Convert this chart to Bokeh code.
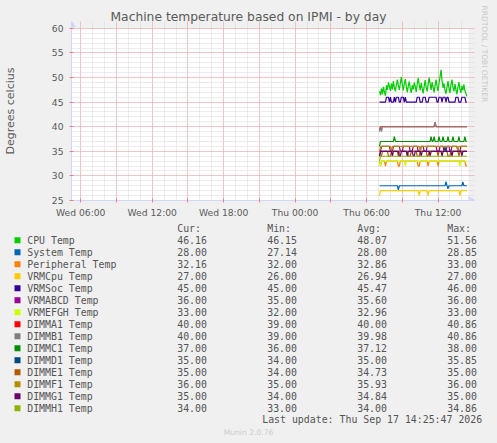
import math
import pandas as pd
from bokeh.plotting import figure
from bokeh.models import Range1d, FixedTicker, Title, GlobalInlineStyleSheet
from bokeh.layouts import column
from bokeh.embed import file_html
from bokeh.resources import INLINE
from bokeh.core.properties import value

# ---------------- data ----------------
DAY = "2026-09-17"
x_start = pd.Timestamp("2026-09-16 05:13:30")
x_end = pd.Timestamp("2026-09-17 14:33:30")

x_label_times = ["2026-09-16 06:00", "2026-09-16 12:00", "2026-09-16 18:00",
                 "2026-09-17 00:00", "2026-09-17 06:00", "2026-09-17 12:00"]
x_tick_labels = ["Wed 06:00", "Wed 12:00", "Wed 18:00", "Thu 00:00", "Thu 06:00", "Thu 12:00"]
y_ticks = [25, 30, 35, 40, 45, 50, 55, 60]
y_min, y_max = 25, 60

# CPU Temp, sampled every 5 minutes from 07:05 to 14:25
cpu_start = "07:05"
cpu_v = [47.2, 46.4, 47.8, 46.6, 48.1, 47.0, 46.3, 48.4, 47.5, 49.0, 48.2, 47.3,
         48.8, 47.6, 49.3, 48.0, 47.2, 48.5, 49.6, 48.3, 47.5, 48.9, 50.1, 48.6,
         47.4, 48.8, 49.7, 48.1, 47.0, 48.3, 49.2, 47.8, 46.9, 48.4, 47.6, 49.0,
         48.2, 47.1, 48.7, 49.9, 48.5, 47.4, 48.9, 47.8, 46.8, 48.2, 49.5, 48.0,
         47.2, 48.6, 50.0, 48.7, 47.5, 49.1, 48.0, 47.0, 48.4, 49.6, 48.1, 47.3,
         48.9, 50.2, 51.56, 49.4, 47.9, 48.8, 47.4, 46.7, 48.1, 49.3, 47.8, 46.9,
         48.5, 49.6, 48.0, 47.2, 48.7, 47.5, 46.6, 48.0, 49.1, 47.7, 46.9, 48.3,
         47.4, 48.6, 47.3, 46.8, 46.16]

sys_t = ["07:05", "08:35", "08:40", "08:45", "12:35", "12:40", "12:45", "12:50", "12:55",
         "14:00", "14:05", "14:10", "14:25"]
sys_v = [28, 28, 27.14, 28, 28, 28.85, 28, 27.4, 28, 28, 28.8, 28, 28]

per_t = ["07:05", "07:10", "07:15", "07:30", "07:35", "07:40", "08:35", "08:40", "08:45",
         "08:50", "10:15", "10:20", "10:25", "10:30", "11:05", "11:10", "11:15", "11:55",
         "12:00", "12:05", "14:15", "14:20", "14:25"]
per_v = [33, 32, 33, 33, 32, 33, 33, 32, 32, 33, 33, 32, 32, 33, 33, 32, 33, 33,
         32, 33, 33, 32, 32.16]

vrmcpu_t = ["07:05", "07:10", "10:20", "10:25", "10:30", "11:05", "11:10", "11:15",
            "13:45", "13:50", "13:55", "14:25"]
vrmcpu_v = [26, 27, 27, 26, 27, 27, 26, 27, 27, 26, 27, 27]

vrmsoc_t = ["07:05", "07:35", "07:40", "07:50", "07:55", "08:00", "08:05", "08:15", "08:20",
            "08:25", "08:30", "08:40", "08:45", "08:50", "08:55", "09:05", "09:10", "09:15",
            "09:20", "10:10", "10:15", "10:25", "10:30", "10:40", "10:45", "10:55", "11:00",
            "11:10", "11:15", "11:50", "11:55", "12:00", "12:05", "12:15", "12:20", "12:25",
            "12:35", "12:40", "12:45", "12:50", "12:55", "13:25", "13:30", "13:40", "13:45",
            "13:55", "14:00", "14:15", "14:20", "14:25"]
vrmsoc_v = [45, 45, 46, 46, 45, 46, 45, 45, 46,
            45, 46, 46, 45, 45, 46, 46, 45, 46,
            45, 45, 46, 46, 45, 45, 46, 46, 45,
            45, 46, 46, 45, 45, 46, 46, 45, 46,
            46, 45, 46, 46, 45, 45, 46, 46, 45,
            45, 46, 46, 45, 45]

vrmabcd_t = ["07:05", "07:10", "07:15", "07:55", "08:00", "08:10", "08:15", "08:45", "08:50",
             "09:00", "09:05", "09:35", "09:40", "09:50", "09:55", "10:15", "10:20", "10:30",
             "10:35", "10:45", "10:50", "11:00", "11:05", "11:50", "11:55", "12:05", "12:10",
             "12:25", "12:30", "12:40", "12:45", "12:55", "13:00", "13:05", "13:10", "13:35",
             "13:40", "13:50", "13:55", "14:25"]
vrmabcd_v = [35, 35, 36, 36, 35, 35, 36, 36, 35,
             35, 36, 36, 35, 35, 36, 36, 35, 35,
             36, 36, 35, 35, 36, 36, 35, 35, 36,
             36, 35, 35, 36, 36, 35, 35, 36, 36,
             35, 35, 36, 36]

vrmefgh_t = ["07:05", "07:10", "07:15", "09:10", "09:15", "09:20", "13:45", "13:50", "13:55", "14:25"]
vrmefgh_v = [33, 32, 33, 33, 32, 33, 33, 32, 33, 33]

dimma1_t = ["07:05", "07:10", "11:40", "11:45", "11:50", "14:25"]
dimma1_v = [39.4, 40, 40, 40.86, 40, 40]

dimmb1_t = ["07:05", "07:10", "07:15", "07:20", "11:40", "11:45", "11:50", "14:25"]
dimmb1_v = [39, 40, 39, 40, 40, 40.86, 40, 40]

dimmc1_t = ["07:05", "07:10", "08:15", "08:20", "08:25", "11:20", "11:25", "11:30", "11:35",
            "11:40", "11:45", "12:00", "12:05", "12:10", "12:20", "12:25", "12:30", "12:45",
            "12:50", "12:55", "13:10", "13:15", "13:20", "13:40", "13:45", "13:50", "14:10",
            "14:15", "14:20", "14:25"]
dimmc1_v = [36, 37, 37, 38, 37, 37, 38, 37, 37,
            38, 37, 37, 38, 37, 37, 38, 37, 37,
            38, 37, 37, 38, 37, 37, 38, 37, 37,
            38, 37, 37]

dimmd1_t = ["07:05", "07:10", "12:30", "12:35", "12:40", "14:25"]
dimmd1_v = [34, 35, 35, 35.85, 35, 35]

dimme1_t = ["07:05", "07:15", "07:20", "07:45", "07:50", "08:00", "08:05", "08:35", "08:40",
            "08:45", "09:25", "09:30", "09:40", "09:45", "10:10", "10:15", "10:25", "10:30",
            "11:00", "11:05", "11:10", "11:15", "11:55", "12:00", "12:05", "12:45", "12:50",
            "13:00", "13:05", "13:40", "13:45", "13:50", "14:25"]
dimme1_v = [34, 34, 35, 35, 34, 34, 35, 35, 34,
            35, 35, 34, 34, 35, 35, 34, 34, 35,
            35, 34, 34, 35, 35, 34, 35, 35, 34,
            34, 35, 35, 34, 35, 35]

dimmf1_t = ["07:05", "07:10", "08:00", "08:05", "08:10", "10:25", "10:30", "10:35",
            "13:35", "13:40", "13:45", "14:25"]
dimmf1_v = [35, 36, 36, 35, 36, 36, 35, 36, 36, 35, 36, 36]

dimmg1_t = ["07:05", "07:10", "08:05", "08:10", "08:15", "08:40", "08:45", "08:50", "08:55",
            "09:20", "09:25", "09:30", "09:50", "09:55", "10:00", "10:05", "10:30", "10:35",
            "10:40", "11:15", "11:20", "11:25", "12:15", "12:20", "12:25", "13:05", "13:10",
            "13:15", "13:55", "14:00", "14:05", "14:25"]
dimmg1_v = [34, 35, 35, 34, 35, 35, 34, 34, 35,
            35, 34, 35, 35, 34, 34, 35, 35, 34,
            35, 35, 34, 35, 35, 34, 35, 35, 34,
            35, 35, 34, 35, 35]

dimmh1_t = ["07:05", "07:10", "14:25"]
dimmh1_v = [33, 34, 34]

labels = ["CPU Temp", "System Temp", "Peripheral Temp", "VRMCpu Temp", "VRMSoc Temp",
          "VRMABCD Temp", "VRMEFGH Temp", "DIMMA1 Temp", "DIMMB1 Temp", "DIMMC1 Temp",
          "DIMMD1 Temp", "DIMME1 Temp", "DIMMF1 Temp", "DIMMG1 Temp", "DIMMH1 Temp"]
colors = ["#00CC00", "#0066B3", "#FF8000", "#FFCC00", "#330099", "#990099", "#CCFF00",
          "#FF0000", "#808080", "#008F00", "#00487D", "#B35A00", "#B38F00", "#6B006B", "#8FB300"]
cur_vals = [46.16, 28.00, 32.16, 27.00, 45.00, 36.00, 33.00, 40.00, 40.00, 37.00, 35.00, 35.00, 36.00, 35.00, 34.00]
min_vals = [46.15, 27.14, 32.00, 26.00, 45.00, 35.00, 32.00, 39.00, 39.00, 36.00, 34.00, 34.00, 35.00, 34.00, 33.00]
avg_vals = [48.07, 28.00, 32.86, 26.94, 45.47, 35.60, 32.96, 40.00, 39.98, 37.12, 35.00, 34.73, 35.93, 34.84, 34.00]
max_vals = [51.56, 28.85, 33.00, 27.00, 46.00, 36.00, 33.00, 40.86, 40.86, 38.00, 35.85, 35.00, 36.00, 35.00, 34.86]
col_heads = ["Cur:", "Min:", "Avg:", "Max:"]

title_text = "Machine temperature based on IPMI - by day"
y_label = "Degrees celcius"
last_update = "Last update: Thu Sep 17 14:25:47 2026"
munin_text = "Munin 2.0.76"
watermark = "RRDTOOL / TOBI OETIKER"

# ---------------- helpers ----------------
def ts(hm):
    return pd.Timestamp(f"{DAY} {hm}")

def ms(t):
    return pd.Timestamp(t).value / 1e6

MIN = 60 * 1000          # one minute in ms; one pixel = 5 minutes
cpu_t = list(pd.date_range(ts(cpu_start), periods=len(cpu_v), freq="5min"))

series = [
    (cpu_t, cpu_v), ([ts(h) for h in sys_t], sys_v), ([ts(h) for h in per_t], per_v),
    ([ts(h) for h in vrmcpu_t], vrmcpu_v), ([ts(h) for h in vrmsoc_t], vrmsoc_v),
    ([ts(h) for h in vrmabcd_t], vrmabcd_v), ([ts(h) for h in vrmefgh_t], vrmefgh_v),
    ([ts(h) for h in dimma1_t], dimma1_v), ([ts(h) for h in dimmb1_t], dimmb1_v),
    ([ts(h) for h in dimmc1_t], dimmc1_v), ([ts(h) for h in dimmd1_t], dimmd1_v),
    ([ts(h) for h in dimme1_t], dimme1_v), ([ts(h) for h in dimmf1_t], dimmf1_v),
    ([ts(h) for h in dimmg1_t], dimmg1_v), ([ts(h) for h in dimmh1_t], dimmh1_v),
]

FONT = "DejaVu Sans"
MONO = "DejaVu Sans Mono"
TXT = "#5a5a5a"
LEG = "#555555"
AXIS = "#CFD6F8"
MGRID = "#F0A0A0"
GRID = "#D8D8D8"
BACK = "#F0F0F0"

W = 497
H1, H2 = 220, 223

# ---------------- chart ----------------
# the frame reaches 6 px right of the canvas and 7 px above it, room for the axis arrows
x_hi = ms(x_end) + 30 * MIN
y_hi = y_max + 1.4
p = figure(width=W, height=H1, x_axis_type="datetime",
           x_range=Range1d(ms(x_start), x_hi), y_range=Range1d(y_min, y_hi),
           output_backend="svg", toolbar_location=None,
           min_border_left=67, min_border_right=23, min_border_top=21, min_border_bottom=17,
           background_fill_color=BACK, border_fill_color=BACK, outline_line_color=None)
p.frame_align = False

p.title.text = title_text
p.title.text_font = FONT
p.title.text_font_size = "12.3px"
p.title.text_font_style = "normal"
p.title.text_color = TXT
p.title.align = "left"
p.title.offset = 39
p.title.standoff = -4

# white canvas of the graph
p.quad(left=[ms(x_start)], right=[ms(x_end)], bottom=[y_min], top=[y_max],
       fill_color="#FFFFFF", line_color=None, level="image")

major_x = list(pd.date_range("2026-09-16 06:00", "2026-09-17 12:00", freq="3h"))
minor_x = list(pd.date_range("2026-09-16 06:00", "2026-09-17 14:00", freq="1h"))
label_map = {pd.Timestamp(t): lab for t, lab in zip(x_label_times, x_tick_labels)}
overrides = {ms(t): label_map.get(t, "") for t in major_x}

xa = p.xaxis[0]
xa.ticker = FixedTicker(ticks=[ms(t) for t in major_x], minor_ticks=[ms(t) for t in minor_x])
xa.major_label_overrides = overrides
ya = p.yaxis[0]
ya.ticker = FixedTicker(ticks=y_ticks, minor_ticks=list(range(y_min, y_max + 1)))

for ax in (xa, ya):
    ax.axis_line_color = AXIS
    ax.major_tick_line_color = "#F08080"
    ax.major_tick_in = 2
    ax.major_tick_out = 2
    ax.minor_tick_line_color = None
    ax.major_label_text_font = FONT
    ax.major_label_text_font_size = "9.2px"
    ax.major_label_text_color = TXT
xa.major_label_standoff = 2
ya.major_label_standoff = 4
ya.axis_label = y_label
ya.axis_label_text_font = FONT
ya.axis_label_text_font_size = "11px"
ya.axis_label_text_font_style = "normal"
ya.axis_label_text_color = TXT
ya.axis_label_standoff = 32

for g in (p.xgrid[0], p.ygrid[0]):
    g.grid_line_color = MGRID
    g.grid_line_dash = "1 1"
    g.grid_line_width = 1
    g.minor_grid_line_color = GRID
    g.minor_grid_line_dash = "1 1"
    g.minor_grid_line_width = 1

for (xs, ys), c in zip(series, colors):
    p.line(xs, ys, line_color=c, line_width=1.2)

# axis arrow heads at the ends of the axes
p.scatter(x=[ms(x_end) + 12 * MIN], y=[y_min], marker="triangle", angle=-math.pi / 2,
          size=7, fill_color=AXIS, line_color=AXIS)
p.scatter(x=[ms(x_start)], y=[y_max + 0.7], marker="triangle", size=7,
          fill_color=AXIS, line_color=AXIS)

wm = Title(text=watermark, align="left", text_font=FONT, text_font_size="7.5px",
           text_font_style="normal", text_color="#C8C8C8", standoff=11, offset=-16)
p.add_layout(wm, "right")

# ---------------- legend block ----------------
q = figure(width=W, height=H2, x_range=Range1d(0, W), y_range=Range1d(H2, 0),
           output_backend="svg", toolbar_location=None, min_border=0,
           x_axis_type=None, y_axis_type=None,
           background_fill_color=BACK, border_fill_color=BACK, outline_line_color=None)
q.frame_align = False
q.grid.visible = False

n = len(labels)
row_y = [19.7 + 12 * i for i in range(n)]
q.rect(x=[17] * n, y=row_y, width=6, height=6, fill_color=colors, line_color=None)

def txt(xs, ys, texts, align="left", font=MONO, size="9.9px", color=LEG):
    q.text(x=xs, y=ys, text=texts, text_align=align, text_baseline="middle",
           text_font=value(font), text_font_size=value(size), text_color=color)

txt([26.7] * n, row_y, labels)
col_x = [176.7, 266.7, 356.7, 446.7]
txt(col_x, [7.7] * 4, col_heads)
for cx, vals in zip(col_x, [cur_vals, min_vals, avg_vals, max_vals]):
    txt([cx] * n, row_y, ["%.2f" % v for v in vals])
txt([261.7], [199.3], [last_update])
txt([248], [211.7], [munin_text], align="center", font=FONT, size="7.6px", color="#CCCCCC")

layout = column(p, q, spacing=0)
layout.stylesheets = [GlobalInlineStyleSheet(css="body { background-color: #F0F0F0; }")]
open("out.html", "w").write(file_html(layout, INLINE))
